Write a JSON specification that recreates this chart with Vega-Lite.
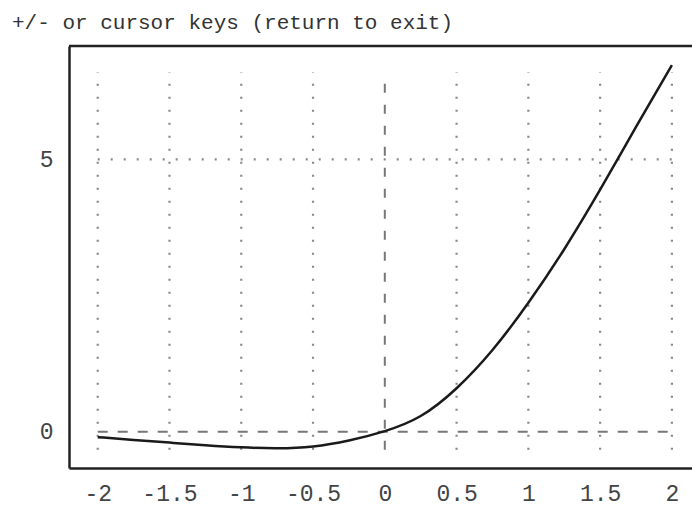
{
  "$schema": "https://vega.github.io/schema/vega-lite/v6.json",
  "width": 623,
  "height": 422,
  "autosize": {"type": "none"},
  "padding": {"left": 69, "top": 46, "right": 0, "bottom": 40},
  "background": "white",
  "title": {"text": "+/- or cursor keys (return to exit)", "anchor": "start", "frame": "group", "dx": -57, "offset": -5, "baseline": "alphabetic", "font": "Liberation Mono", "fontSize": 21, "fontWeight": "normal", "color": "#333"},
  "config": {"view": {"stroke": null}},
  "datasets": {
    "curve": [
      {"x": -2, "y": -0.10},
      {"x": -1.75, "y": -0.15},
      {"x": -1.5, "y": -0.20},
      {"x": -1.25, "y": -0.25},
      {"x": -1, "y": -0.29},
      {"x": -0.75, "y": -0.31},
      {"x": -0.5, "y": -0.285},
      {"x": -0.25, "y": -0.17},
      {"x": 0, "y": 0},
      {"x": 0.25, "y": 0.24},
      {"x": 0.5, "y": 0.77},
      {"x": 0.75, "y": 1.47},
      {"x": 1, "y": 2.35},
      {"x": 1.25, "y": 3.33},
      {"x": 1.5, "y": 4.43},
      {"x": 1.75, "y": 5.6},
      {"x": 2, "y": 6.73}
    ],
    "vgrid": [{"x": -2}, {"x": -1.5}, {"x": -1}, {"x": -0.5}, {"x": 0.5}, {"x": 1}, {"x": 1.5}, {"x": 2}],
    "hgrid": [{"y": 5}],
    "vzero": [{"x": 0}],
    "hzero": [{"y": 0}],
    "frame": [{"y": 7.08}]
  },
  "layer": [
    {
      "data": {"name": "vgrid"},
      "mark": {"type": "rule", "color": "#888", "strokeWidth": 2.2, "strokeDash": [2, 11]},
      "encoding": {
        "x": {"field": "x", "type": "quantitative",
          "scale": {"domain": [-2.2, 2.14], "nice": false, "zero": false},
          "axis": {"orient": "bottom", "values": [-2, -1.5, -1, -0.5, 0, 0.5, 1, 1.5, 2], "format": "~g", "grid": false, "ticks": false, "domain": true, "domainColor": "#222", "domainWidth": 2.5, "labelFont": "Liberation Mono", "labelFontSize": 23, "labelColor": "#444", "labelPadding": 14, "labelOverlap": false, "labelFlush": false, "labelExpr": "replace(datum.label, '−', '-')", "title": null}},
        "y": {"datum": -0.33, "type": "quantitative",
          "scale": {"domain": [-0.666, 7.08], "nice": false, "zero": false},
          "axis": {"values": [0, 5], "format": "~g", "grid": false, "ticks": false, "domain": true, "domainColor": "#222", "domainWidth": 2.5, "labelFont": "Liberation Mono", "labelFontSize": 23, "labelColor": "#444", "labelPadding": 16, "title": null}},
        "y2": {"datum": 6.6}
      }
    },
    {
      "data": {"name": "hgrid"},
      "mark": {"type": "rule", "color": "#888", "strokeWidth": 2.2, "strokeDash": [2, 11]},
      "encoding": {
        "y": {"field": "y", "type": "quantitative"},
        "x": {"datum": -2},
        "x2": {"datum": 2}
      }
    },
    {
      "data": {"name": "vzero"},
      "mark": {"type": "rule", "color": "#777", "strokeWidth": 2, "strokeDash": [9, 12]},
      "encoding": {
        "x": {"field": "x", "type": "quantitative"},
        "y": {"datum": -0.33},
        "y2": {"datum": 6.6}
      }
    },
    {
      "data": {"name": "hzero"},
      "mark": {"type": "rule", "color": "#777", "strokeWidth": 2, "strokeDash": [10, 10]},
      "encoding": {
        "y": {"field": "y", "type": "quantitative"},
        "x": {"datum": -2},
        "x2": {"datum": 2}
      }
    },
    {
      "data": {"name": "frame"},
      "mark": {"type": "rule", "color": "#222", "strokeWidth": 2.5},
      "encoding": {
        "y": {"field": "y", "type": "quantitative"},
        "x": {"datum": -2.2},
        "x2": {"datum": 2.14}
      }
    },
    {
      "data": {"name": "curve"},
      "mark": {"type": "line", "color": "#1a1a1a", "strokeWidth": 2.5, "interpolate": "basis"},
      "encoding": {
        "x": {"field": "x", "type": "quantitative"},
        "y": {"field": "y", "type": "quantitative"}
      }
    }
  ]
}
